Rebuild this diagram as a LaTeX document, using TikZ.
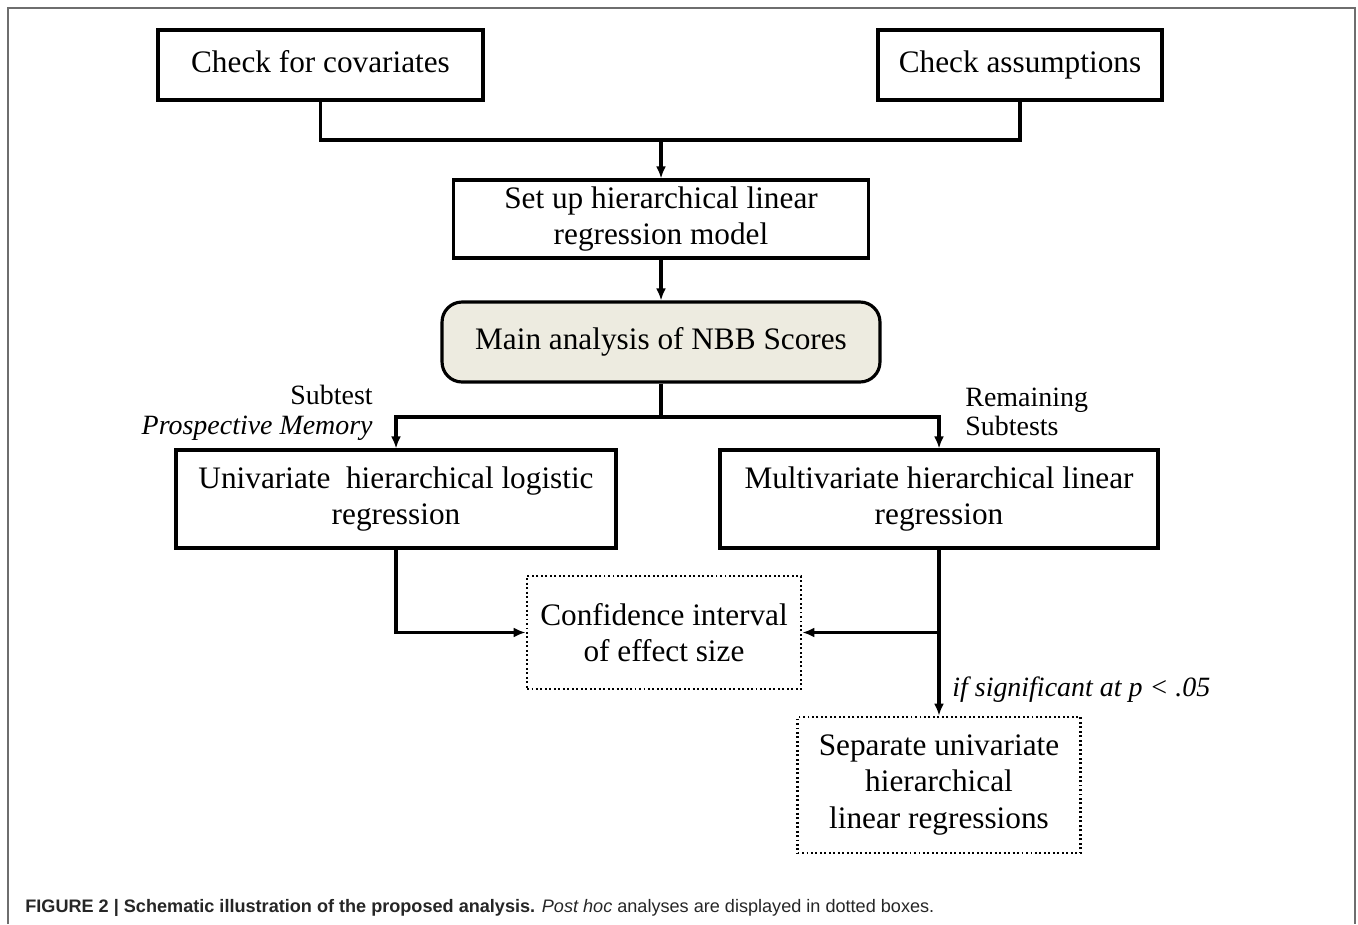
\documentclass[tikz,border=0pt]{standalone}
\usepackage{fontspec}
\setmainfont{Liberation Serif}
\setsansfont{Liberation Sans}
\usepackage{xcolor}
\usepackage{tikz}
\usetikzlibrary{calc}
\usetikzlibrary{arrows.meta}
\usetikzlibrary{shapes}
\usetikzlibrary{positioning}
\definecolor{mainfill}{HTML}{EDEBE0}
\definecolor{framegray}{HTML}{6E6E6E}
\newcommand{\boxfont}{\fontsize{17.8pt}{20.6pt}\selectfont}
\newcommand{\lblfont}{\fontsize{15.9pt}{16.8pt}\selectfont}
\newcommand{\capfont}{\fontsize{10.3pt}{12pt}\selectfont\sffamily}
\tikzset{>={Latex[length=0.24cm,width=0.2cm]}}
\tikzstyle{box} = [rectangle, draw=black, line width=1.8pt, align=center, inner sep=0pt, font=\boxfont]
\tikzstyle{posthoc} = [box, line width=1.6pt, dash pattern=on 1.1pt off 1.45pt]
\tikzstyle{conn} = [-, line width=1.8pt, draw=black]
\tikzstyle{arr} = [conn, ->]

\begin{document}
\begin{tikzpicture}[x=0.02cm, y=-0.02cm]
\useasboundingbox (0,0) rectangle (1358,924);
\draw [draw=framegray, line width=0.9pt] (8,924) -- (8,8) -- (1355,8) -- (1355,924);
\node [box, minimum width=6.5cm, minimum height=1.4cm] (cov) at (320.5, 65) {\strut Check for covariates};
\node [box, minimum width=5.68cm, minimum height=1.4cm] (asm) at (1020, 65) {\strut Check assumptions};
\node [box, minimum width=8.3cm, minimum height=1.56cm] (setup) at (661, 219) {Set up hierarchical linear\\regression model};
\node [box, rounded corners=0.4cm, fill=mainfill, minimum width=8.76cm, minimum height=1.6cm] (main) at (661, 342) {\strut Main analysis of NBB Scores};
\node [box, minimum width=8.8cm, minimum height=1.96cm] (uni) at (396, 499) {Univariate\ \ hierarchical logistic\\regression};
\node [box, minimum width=8.76cm, minimum height=1.96cm] (multi) at (939, 499) {Multivariate hierarchical linear\\regression};
\node [posthoc, minimum width=5.48cm, minimum height=2.26cm] (conf) at (664, 632.5) {Confidence interval\\of effect size};
\node [posthoc, minimum width=5.66cm, minimum height=2.72cm] (sep) at (939, 785) {Separate univariate\\hierarchical\\linear regressions};
\coordinate (jtop) at (661, 140);
\coordinate (jmid) at (661, 417);
\coordinate (jright) at (multi.south |- conf.east);
\draw [conn] (cov.south) |- (jtop) -| (asm.south);
\draw [arr] (jtop) to (setup.north);
\draw [arr] (setup.south) to (main.north);
\draw [conn] (main.south) to (jmid);
\draw [arr] (jmid) -| (uni.north);
\draw [arr] (jmid) -| (multi.north);
\draw [arr] (uni.south) |- (conf.west);
\draw [arr] (jright) to (conf.east);
\draw [arr] (multi.south) to (sep.north);
\node [anchor=east, align=right, inner sep=0pt, font=\lblfont] (lblsub) at (373, 413) {Subtest\\\textit{Prospective Memory}};
\node [anchor=west, align=left, inner sep=0pt, font=\lblfont] (lblrem) at (965, 412) {Remaining\\Subtests};
\node [anchor=west, inner sep=0pt, font=\lblfont\itshape] (lblsig) at (952, 690) {if significant at p < .05};
\node [anchor=base west, inner sep=0pt, text=black!85, font=\capfont] (caption) at (25, 912) {\textbf{FIGURE 2 | Schematic illustration of the proposed analysis.} \textit{Post hoc} analyses are displayed in dotted boxes.};
\end{tikzpicture}
\end{document}
